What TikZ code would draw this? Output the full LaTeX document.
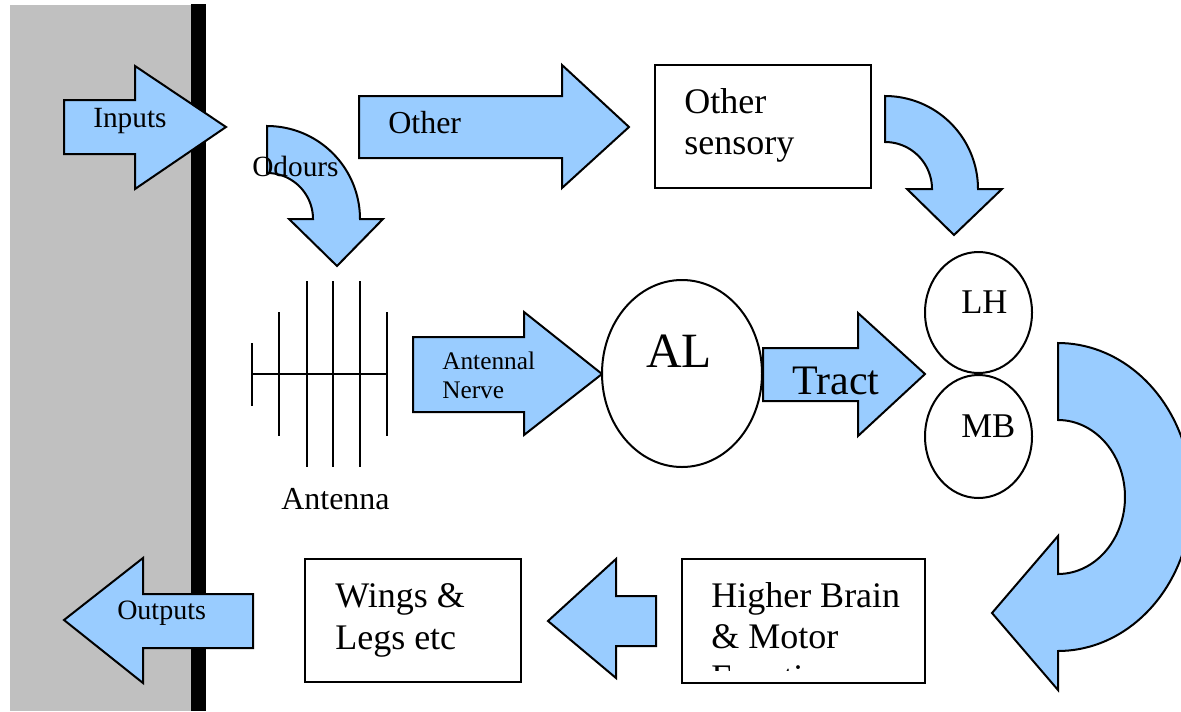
\documentclass[tikz,border=0pt]{standalone}
\usepackage{fontspec}
\setmainfont{Liberation Serif}
\usetikzlibrary{shapes.geometric}
\definecolor{arrowblue}{HTML}{99CCFF}
\definecolor{wallgray}{HTML}{C0C0C0}
\newcommand\setfs[1]{\fontsize{#1pt}{#1pt}\selectfont}
\tikzset{
  blk/.style={fill=arrowblue, draw=black, line width=1.5pt, line join=miter},
  boxnode/.style={draw=black, fill=white, line width=1.5pt, rectangle, inner sep=0pt},
  ellnode/.style={draw=black, fill=white, line width=1.5pt, ellipse, inner sep=0pt},
  lbl/.style={inner sep=0pt, anchor=base west},
  antline/.style={line width=2pt}
}
\begin{document}
\begin{tikzpicture}[x=0.75pt, y=-0.75pt]
\useasboundingbox (0,0) rectangle (1181,711);
\clip (0,0) rectangle (1181,711);
% wall
\fill[wallgray] (10,5) rectangle (191,711);
\fill[black] (191,4) rectangle (206,711);

% straight block arrows
\filldraw[blk] (64,100) -- (135,100) -- (135,66) -- (226,127) -- (135,189) -- (135,154) -- (64,154) -- cycle;
\filldraw[blk] (359,96) -- (562,96) -- (562,65) -- (629,127) -- (562,188) -- (562,158) -- (359,158) -- cycle;
\filldraw[blk] (413,337) -- (524,337) -- (524,312) -- (602,374) -- (524,435) -- (524,412) -- (413,412) -- cycle;
\filldraw[blk] (763,348) -- (858,348) -- (858,313) -- (925,374) -- (858,436) -- (858,401) -- (763,401) -- cycle;
\filldraw[blk] (656,596) -- (616,596) -- (616,559) -- (548,621) -- (616,678) -- (616,646) -- (656,646) -- cycle;
\filldraw[blk] (253,594) -- (143,594) -- (143,558) -- (64,620) -- (143,683) -- (143,648) -- (253,648) -- cycle;

% curved arrows
\filldraw[blk] (267,126) -- plot[domain=270:360, samples=40, variable=\t] ({267+93*cos(\t)},{219+93*sin(\t)})
  -- (383,219) -- (337,266) -- (289,219) -- (313,219)
  -- plot[domain=360:270, samples=40, variable=\t] ({267+46*cos(\t)},{219+46*sin(\t)}) -- cycle;
\filldraw[blk] (885,96) -- plot[domain=270:360, samples=40, variable=\t] ({885+93*cos(\t)},{189+93*sin(\t)})
  -- (1002,189) -- (954,235) -- (907,189) -- (932,189)
  -- plot[domain=360:270, samples=40, variable=\t] ({885+47*cos(\t)},{189+47*sin(\t)}) -- cycle;
\filldraw[blk] (1058,343) -- plot[domain=270:450, samples=80, variable=\t] ({1058+134*cos(\t)},{497+154*sin(\t)})
  -- (1058,690) -- (992,613) -- (1058,536) -- (1058,574)
  -- plot[domain=450:270, samples=60, variable=\t] ({1058+67*cos(\t)},{497+77*sin(\t)}) -- cycle;

% boxes
\node[boxnode, minimum width=162pt, minimum height=92.25pt] (sensbox) at (763,126.5) {};
\node[boxnode, minimum width=182.25pt, minimum height=93pt] (brainbox) at (803.5,621) {};
\node[boxnode, minimum width=162pt, minimum height=92.25pt] (wingbox) at (413,620.5) {};

% ellipses
\node[ellnode, minimum width=120pt, minimum height=140.25pt] (AL) at (682,373.5) {};
\node[ellnode, minimum width=80.25pt, minimum height=90.75pt] (LH) at (978.5,312.5) {};
\node[ellnode, minimum width=80.25pt, minimum height=92.25pt] (MB) at (978.5,436.5) {};

% antenna
\draw[antline] (252,374) -- (387,374);
\draw[antline] (252,343) -- (252,406);
\draw[antline] (279,312) -- (279,436);
\draw[antline] (307,281) -- (307,467);
\draw[antline] (333,281) -- (333,467);
\draw[antline] (360,281) -- (360,467);
\draw[antline] (387,312) -- (387,436);

% texts
\node[lbl] (tInputs) at (93,127) {\setfs{22}Inputs};
\node[lbl] (tOdours) at (252,176) {\setfs{22}Odours};
\node[lbl] (tOther) at (388,133) {\setfs{24}Other};
\node[lbl] (tSens1) at (684,113) {\setfs{27}Other};
\node[lbl] (tSens2) at (684,154) {\setfs{27}sensory};
\node[lbl] (tAN1) at (442,369) {\setfs{19}Antennal};
\node[lbl] (tAN2) at (442,398) {\setfs{19}Nerve};
\node[lbl] (tAntenna) at (281,509) {\setfs{24}Antenna};
\node[inner sep=0pt, anchor=base] (tAL) at (679,367) {\setfs{37}AL};
\node[lbl] (tTract) at (792,394) {\setfs{31.5}Tract};
\node[lbl] (tLH) at (961,313) {\setfs{26}LH};
\node[lbl] (tMB) at (961,437) {\setfs{26}MB};
\node[lbl] (tHB1) at (711,607) {\setfs{27}Higher Brain};
\node[lbl] (tHB2) at (711,648) {\setfs{27}\& Motor};
\begin{scope}
\clip (683,655) rectangle (924,670);
\node[lbl] (tHB3) at (711,689) {\setfs{27}Function};
\end{scope}
\node[lbl] (tW1) at (335,607) {\setfs{27}Wings \&};
\node[lbl] (tW2) at (335,649) {\setfs{27}Legs etc};
\node[lbl] (tOut) at (117,619) {\setfs{21}Outputs};
\end{tikzpicture}
\end{document}
